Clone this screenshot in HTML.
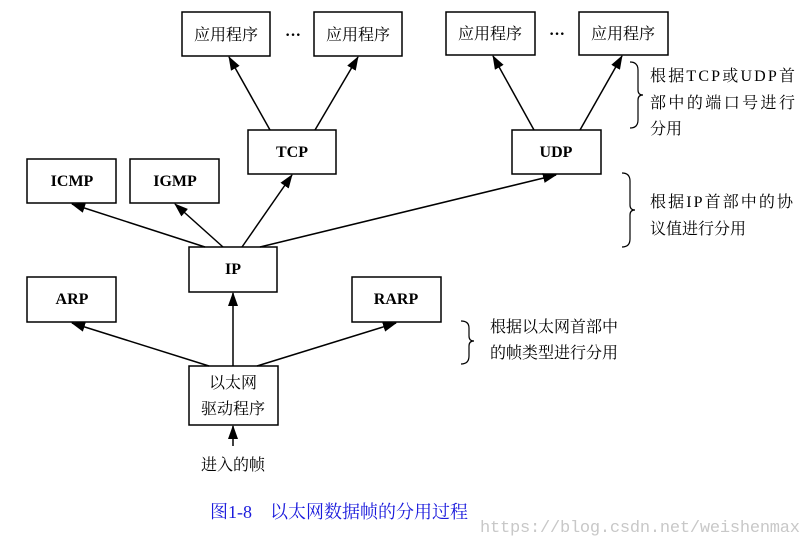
<!DOCTYPE html>
<html><head><meta charset="utf-8"><style>
body{margin:0;background:#fff;width:809px;height:545px;overflow:hidden}
</style></head><body>
<svg width="809" height="545" xmlns="http://www.w3.org/2000/svg">
<defs><marker id="a" markerWidth="14" markerHeight="10" refX="13" refY="5" orient="auto" markerUnits="userSpaceOnUse"><path d="M0,0 L14,5 L0,10 z" fill="#000"/></marker></defs>
<g fill="#fff" stroke="#000" stroke-width="1.5">
<rect x="182" y="12" width="88" height="44"/><rect x="314" y="12" width="88" height="44"/>
<rect x="446" y="12" width="89" height="43"/><rect x="579" y="12" width="89" height="43"/>
<rect x="248" y="130" width="88" height="44"/><rect x="512" y="130" width="89" height="44"/>
<rect x="27" y="159" width="89" height="44"/><rect x="130" y="159" width="89" height="44"/>
<rect x="189" y="247" width="88" height="45"/>
<rect x="27" y="277" width="89" height="45"/><rect x="352" y="277" width="89" height="45"/>
<rect x="189" y="366" width="89" height="59"/>
</g>
<g stroke="#000" stroke-width="1.5" marker-end="url(#a)">
<line x1="270" y1="130" x2="229" y2="57"/><line x1="315" y1="130" x2="358" y2="57"/>
<line x1="534" y1="130" x2="493" y2="56"/><line x1="580" y1="130" x2="622" y2="56"/>
<line x1="205" y1="247" x2="72" y2="204"/><line x1="223" y1="247" x2="175" y2="204"/>
<line x1="242" y1="247" x2="292" y2="175"/><line x1="260" y1="247" x2="556" y2="175"/>
<line x1="209" y1="366" x2="72" y2="323"/><line x1="233" y1="366" x2="233" y2="293"/>
<line x1="257" y1="366" x2="396" y2="323"/><line x1="233" y1="446" x2="233" y2="426"/>
</g>
<g fill="none" stroke="#000" stroke-width="1.2">
<path d="M630,62 Q638,62 638,70 L638,90 Q638,95 643,95 Q638,95 638,100 L638,120 Q638,128 630,128"/>
<path d="M622,173 Q630,173 630,181 L630,205 Q630,210 635,210 Q630,210 630,215 L630,239 Q630,247 622,247"/>
<path d="M461,321 Q469,321 469,328 L469,336 Q469,341 474,341 Q469,341 469,346 L469,356 Q469,364 461,364"/>
</g>
<g font-family="Liberation Serif, Noto Serif CJK SC, serif" font-size="16" fill="#000">
<g text-anchor="middle">
<text x="226" y="40">应用程序</text><text x="358" y="40">应用程序</text>
<text x="490" y="39">应用程序</text><text x="623" y="39">应用程序</text>
<text x="293" y="40" font-weight="bold">···</text><text x="557" y="39" font-weight="bold">···</text>
<g font-weight="bold" font-size="16">
<text x="292" y="157">TCP</text><text x="556" y="157">UDP</text>
<text x="72" y="186">ICMP</text><text x="175" y="186">IGMP</text>
<text x="233" y="274">IP</text><text x="72" y="304">ARP</text><text x="396" y="304">RARP</text>
</g>
<text x="233" y="388" font-size="16">以太网</text><text x="233" y="414" font-size="16">驱动程序</text>
<text x="233" y="470" font-size="16">进入的帧</text>
</g>
<g font-size="16">
<text x="650" y="81" textLength="145">根据TCP或UDP首</text><text x="650" y="108" textLength="145">部中的端口号进行</text><text x="650" y="134">分用</text>
<text x="650" y="207" textLength="143">根据IP首部中的协</text><text x="650" y="234">议值进行分用</text>
<text x="490" y="332">根据以太网首部中</text><text x="490" y="358">的帧类型进行分用</text>
</g>
<text x="210" y="518" fill="#1a1adc" font-size="18">图1-8</text>
<text x="270" y="518" fill="#1a1adc" font-size="18">以太网数据帧的分用过程</text>
<text x="480" y="532" fill="#c8c8c8" font-family="Liberation Mono, monospace" font-size="17" textLength="320">https://blog.csdn.net/weishenmax</text>
</g>
</svg>
</body></html>
